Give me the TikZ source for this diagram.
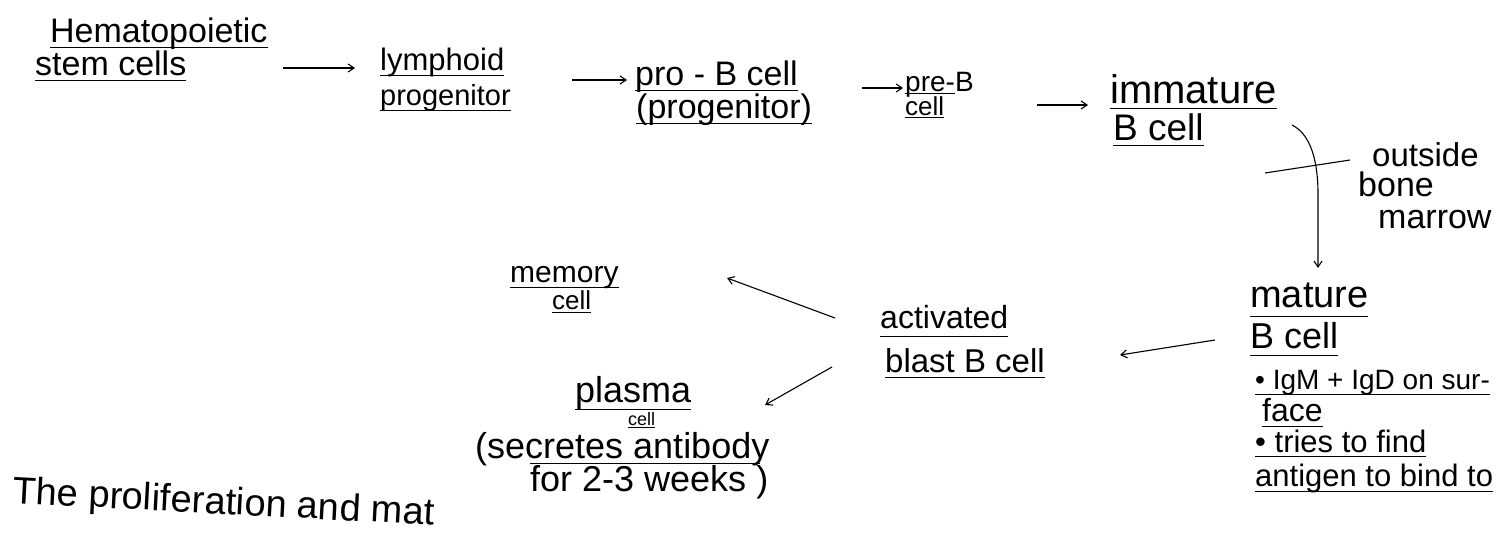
\documentclass[tikz,border=0pt]{standalone}
\usepackage{fontspec}
\setmainfont{Liberation Sans}
\usetikzlibrary{arrows.meta}
\newcommand\fs[1]{\fontsize{#1}{#1}\selectfont}
% pen underline a fixed distance below the baseline (optional depth)
\newsavebox\ulbox
\newcommand\ul[2][6pt]{\sbox\ulbox{#2}\rlap{\rule[-#1]{\wd\ulbox}{0.9pt}}\usebox\ulbox}
\begin{document}
\begin{tikzpicture}[x=1pt,y=-1pt,
  cell/.style={inner sep=0pt, anchor=base west},
  arr/.style={line width=1.1pt, -{Straight Barb[length=6pt,width=8pt]}},
  bar/.style={line width=1.1pt}]
\useasboundingbox (0,0) rectangle (1503,541);
\fill[white] (0,0) rectangle (1503,541);

% top row: development inside the bone marrow
\node[cell, font=\fs{34}] (hsc1) at (50,42)  {\ul{Hematopoietic}};
\node[cell, font=\fs{34}] (hsc2) at (35,75)  {\ul{stem cells}};
\node[cell, font=\fs{31}] (lym1) at (380,70) {\ul{lymphoid}};
\node[cell, font=\fs{29}] (lym2) at (380,105) {\ul{progenitor}};
\node[cell, font=\fs{34}] (prob1) at (635,85) {\ul{pro - B cell}};
\node[cell, font=\fs{34}] (prob2) at (636,118) {\ul{(progenitor)}};
\node[cell, font=\fs{28}] (preb1) at (905,91) {\ul[3pt]{pre-}B};
\node[cell, font=\fs{26}] (preb2) at (905,115) {\ul[3pt]{cell}};
\node[cell, font=\fs{40}] (imm1) at (1110,103) {\ul{immature}};
\node[cell, font=\fs{37}] (imm2) at (1113,140) {\ul{B cell}};

% leaving the marrow
\node[cell, font=\fs{33}] (out1) at (1372,166) {outside};
\node[cell, font=\fs{34}] (out2) at (1358,196) {bone};
\node[cell, font=\fs{34}] (out3) at (1378,228) {marrow};

% mature B cell and its notes
\node[cell, font=\fs{38}] (mat1) at (1250,307) {\ul[10pt]{mature}};
\node[cell, font=\fs{36}] (mat2) at (1250,348) {\ul[8pt]{B cell}};
\node[cell, font=\fs{28}] (mat3) at (1255,389) {\ul{• IgM + IgD on sur-}};
\node[cell, font=\fs{32}] (mat4) at (1262,421) {\ul{face}};
\node[cell, font=\fs{31}] (mat5) at (1255,452) {\ul[5pt]{• tries to find}};
\node[cell, font=\fs{31}] (mat6) at (1255,486) {\ul{antigen to bind to}};

% activation and fates
\node[cell, font=\fs{32}] (act1) at (880,328) {\ul[9pt]{activated}};
\node[cell, font=\fs{33}] (act2) at (885,372) {\ul{blast B cell}};
\node[cell, font=\fs{30}] (mem1) at (510,282) {\ul{memory}};
\node[cell, font=\fs{26}] (mem2) at (552,309) {\ul[4pt]{cell}};
\node[cell, font=\fs{36}] (pl1) at (575,402) {\ul[8pt]{plasma}};
\node[cell, font=\fs{18}] (pl2) at (628,425) {\ul[3pt]{cell}};
\node[cell, font=\fs{36}] (pl3) at (475,458) {(secretes antibody};
\node[cell, font=\fs{36}] (pl4) at (530,491) {for 2-3 weeks )};
\draw[line width=0.9pt] ([shift={(55pt,-5pt)}]pl3.base west) -- ([shift={(285pt,-5pt)}]pl3.base west);

% running text below
\node[cell, font=\fs{38}, rotate=-3] (note) at (12,503) {The proliferation and mat};

% connectors
\draw[arr] ([shift={(248pt,7pt)}]hsc2.base west) -- ([shift={(-25pt,2pt)}]lym1.base west);
\draw[arr] ([shift={(192pt,-10pt)}]lym1.base west) -- ([shift={(-8pt,5pt)}]prob1.base west);
\draw[arr] ([shift={(227pt,-3pt)}]prob1.base west) -- ([shift={(-2pt,3pt)}]preb1.base west);
\draw[arr] ([shift={(132pt,10pt)}]preb2.base west) -- ([shift={(-22pt,-2pt)}]imm1.base west);
\draw[arr] ([shift={(182pt,-22pt)}]imm1.base west)
   .. controls +(20pt,-10pt) and +(0pt,30pt) .. ([shift={(68pt,113pt)}]mat1.base west)
   -- ([shift={(68pt,39pt)}]mat1.base west);
\draw[bar] ([shift={(155pt,-70pt)}]imm1.base west) -- ([shift={(240pt,-57pt)}]imm1.base west);
\draw[arr] ([shift={(-35pt,8pt)}]mat2.base west) -- ([shift={(235pt,17pt)}]act2.base west);
\draw[arr] ([shift={(-45pt,10pt)}]act1.base west) -- ([shift={(217pt,4pt)}]mem1.base west);
\draw[arr] ([shift={(-53pt,5pt)}]act2.base west) -- ([shift={(190pt,-3pt)}]pl1.base west);
\end{tikzpicture}
\end{document}
